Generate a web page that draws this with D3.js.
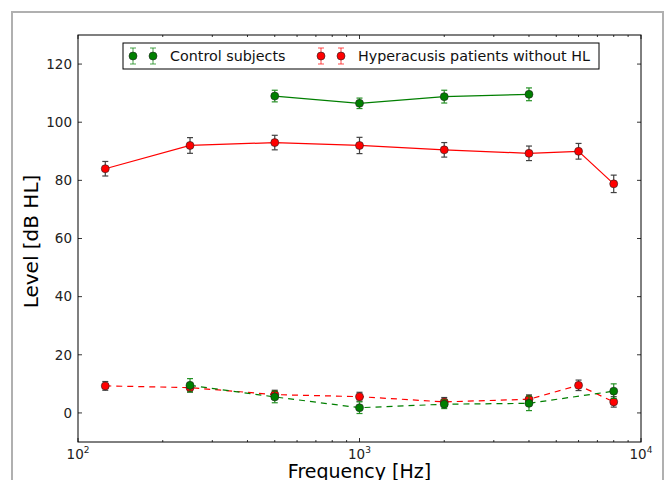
<!DOCTYPE html>
<html>
<head>
<meta charset="utf-8">
<script src="https://cdn.jsdelivr.net/npm/d3@7"></script>
<style>
  body { margin: 0; background: #fff; }
  svg { font-family: "DejaVu Sans", sans-serif; }
</style>
</head>
<body>
<div id="chart"></div>
<script>
// Frequencies (Hz)
const freqCtrl = [500, 1000, 2000, 4000];
const freqCtrlLow = [250, 500, 1000, 2000, 4000, 8000];
const freqHyp = [125, 250, 500, 1000, 2000, 4000, 6000, 8000];

// Control subjects: upper (solid) and lower (dashed) curves
const ctrlHigh = [109, 106.5, 108.8, 109.6];
const ctrlHighErr = [2, 1.8, 2.2, 2.2];
const ctrlLow = [9.5, 5.5, 1.8, 3, 3.3, 7.5];
const ctrlLowErr = [2.3, 2, 2, 1.5, 2.5, 2.5];

// Hyperacusis patients without HL
const hypHigh = [84, 92, 93, 92, 90.5, 89.3, 90, 78.8];
const hypHighErr = [2.5, 2.7, 2.5, 2.8, 2.5, 2.5, 2.7, 3];
const hypLow = [9.3, 8.7, 6.3, 5.6, 3.8, 4.7, 9.5, 3.8];
const hypLowErr = [1.5, 1.5, 1.5, 1.5, 1.5, 1.5, 1.8, 1.8];

const yTicks = [0, 20, 40, 60, 80, 100, 120];
const xTicks = [100, 1000, 10000];

const W = 665, H = 480;
const margin = { top: 35, right: 24, bottom: 38, left: 78 };
const width = W - margin.left - margin.right,
  height = H - margin.top - margin.bottom;

const svg = d3.select("#chart").append("svg")
  .attr("width", W)
  .attr("height", H);

// outer frame
svg.append("rect")
  .attr("x", 12).attr("y", 12)
  .attr("width", 651).attr("height", 480)
  .attr("fill", "none")
  .attr("stroke", "#b0b0b0")
  .attr("stroke-width", 2);

const g = svg.append("g")
  .attr("transform", "translate(" + margin.left + "," + margin.top + ")");

const x = d3.scaleLog().domain([100, 10000]).range([0, width]);
const y = d3.scaleLinear().domain([-10, 130]).range([height, 0]);

// ticks (inward, all four sides)
const minor = [];
[100, 1000].forEach(b => { for (let k = 2; k <= 9; k++) minor.push(b * k); });

const ticks = g.append("g").attr("stroke", "#000").attr("stroke-width", 0.8);
yTicks.forEach(v => {
  ticks.append("line").attr("x1", 0).attr("x2", 4).attr("y1", y(v)).attr("y2", y(v));
  ticks.append("line").attr("x1", width).attr("x2", width - 4).attr("y1", y(v)).attr("y2", y(v));
});
xTicks.forEach(v => {
  ticks.append("line").attr("x1", x(v)).attr("x2", x(v)).attr("y1", height).attr("y2", height - 4);
  ticks.append("line").attr("x1", x(v)).attr("x2", x(v)).attr("y1", 0).attr("y2", 4);
});
minor.forEach(v => {
  ticks.append("line").attr("x1", x(v)).attr("x2", x(v)).attr("y1", height).attr("y2", height - 2);
  ticks.append("line").attr("x1", x(v)).attr("x2", x(v)).attr("y1", 0).attr("y2", 2);
});

// tick labels
g.selectAll(".ylab").data(yTicks).enter().append("text")
  .attr("x", -6).attr("y", d => y(d)).attr("dy", "0.35em")
  .attr("text-anchor", "end").attr("font-size", 13.5).attr("fill", "#222")
  .text(d => d);

const xl = g.selectAll(".xlab").data(xTicks).enter().append("text")
  .attr("x", d => x(d)).attr("y", height + 17)
  .attr("text-anchor", "middle").attr("font-size", 13.5).attr("fill", "#222");
xl.append("tspan").text("10");
xl.append("tspan").attr("dy", -6).attr("font-size", 9).text(d => Math.round(Math.log10(d)));

// axis labels
g.append("text")
  .attr("transform", "rotate(-90)")
  .attr("x", -height / 2 - 3).attr("y", -40)
  .attr("text-anchor", "middle").attr("font-size", 20)
  .text("Level [dB HL]");

g.append("text")
  .attr("x", width / 2).attr("y", height + 36)
  .attr("text-anchor", "middle").attr("font-size", 19)
  .text("Frequency [Hz]");

// series
const series = [
  { f: freqHyp, v: hypLow, e: hypLowErr, color: "#ff0000", ecolor: "#222", dash: "6,5" },
  { f: freqCtrlLow, v: ctrlLow, e: ctrlLowErr, color: "#007f00", ecolor: "#007f00", dash: "6,5" },
  { f: freqHyp, v: hypHigh, e: hypHighErr, color: "#ff0000", ecolor: "#222", dash: null },
  { f: freqCtrl, v: ctrlHigh, e: ctrlHighErr, color: "#007f00", ecolor: "#007f00", dash: null }
];

const line = d3.line().x(d => x(d.f)).y(d => y(d.v));

series.forEach(s => {
  const pts = s.f.map((f, i) => ({ f: f, v: s.v[i], e: s.e[i] }));
  g.append("path")
    .datum(pts)
    .attr("d", line)
    .attr("fill", "none")
    .attr("stroke", s.color)
    .attr("stroke-width", 1.2)
    .attr("stroke-dasharray", s.dash);

  const eb = g.append("g").attr("stroke", s.ecolor).attr("stroke-width", 1.2).attr("opacity", 0.85);
  pts.forEach(p => {
    eb.append("line").attr("x1", x(p.f)).attr("x2", x(p.f)).attr("y1", y(p.v - p.e)).attr("y2", y(p.v + p.e));
    eb.append("line").attr("x1", x(p.f) - 3).attr("x2", x(p.f) + 3).attr("y1", y(p.v - p.e)).attr("y2", y(p.v - p.e));
    eb.append("line").attr("x1", x(p.f) - 3).attr("x2", x(p.f) + 3).attr("y1", y(p.v + p.e)).attr("y2", y(p.v + p.e));
  });

  g.selectAll(null).data(pts).enter().append("circle")
    .attr("cx", d => x(d.f)).attr("cy", d => y(d.v))
    .attr("r", 4)
    .attr("fill", s.color)
    .attr("stroke", "#222")
    .attr("stroke-width", 0.6);
});

// plot frame
g.append("rect")
  .attr("width", width).attr("height", height)
  .attr("fill", "none").attr("stroke", "#000").attr("stroke-width", 1);

// legend
const leg = svg.append("g");
leg.append("rect")
  .attr("x", 123).attr("y", 43).attr("width", 476).attr("height", 26)
  .attr("fill", "#fff").attr("stroke", "#000").attr("stroke-width", 1);

const legItems = [
  { label: "Control subjects", color: "#007f00", x0: 133 },
  { label: "Hyperacusis patients without HL", color: "#ff0000", x0: 321 }
];
legItems.forEach(it => {
  [0, 20].forEach(dx => {
    const cx = it.x0 + dx, cy = 56;
    leg.append("line").attr("x1", cx).attr("x2", cx).attr("y1", cy - 8).attr("y2", cy + 8)
      .attr("stroke", it.color).attr("stroke-width", 1).attr("opacity", 0.7);
    leg.append("line").attr("x1", cx - 3).attr("x2", cx + 3).attr("y1", cy - 8).attr("y2", cy - 8)
      .attr("stroke", it.color).attr("stroke-width", 1).attr("opacity", 0.7);
    leg.append("line").attr("x1", cx - 3).attr("x2", cx + 3).attr("y1", cy + 8).attr("y2", cy + 8)
      .attr("stroke", it.color).attr("stroke-width", 1).attr("opacity", 0.7);
    leg.append("circle").attr("cx", cx).attr("cy", cy).attr("r", 4)
      .attr("fill", it.color).attr("stroke", "#222").attr("stroke-width", 0.6);
  });
  leg.append("text")
    .attr("x", it.x0 + 37).attr("y", 56).attr("dy", "0.35em")
    .attr("font-size", 14.3).attr("fill", "#111")
    .text(it.label);
});
</script>
</body>
</html>
